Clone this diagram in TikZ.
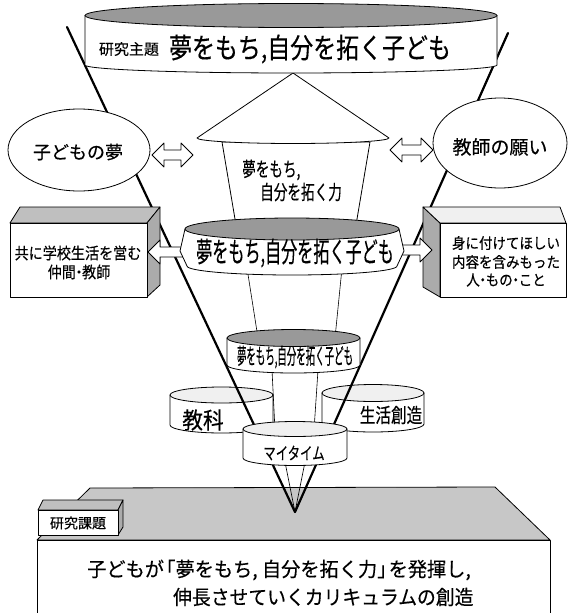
\documentclass[tikz,border=0pt]{standalone}
\usepackage{fontspec}
\setmainfont{Noto Sans CJK JP}[FakeBold=0.35]
\usepackage{graphicx}
\newcommand{\jt}[3]{{\fontsize{#1}{#1}\selectfont\scalebox{#2}[1]{#3}}}
\newcommand{\nd}{\kern-0.28em・\kern-0.28em}
% cylinder: cx, ytop, ybot, rx, ry top, ry bottom, top fill
\newcommand{\cyl}[7]{%
  \filldraw[ol, fill=white] ({#1-#4},#2) -- ({#1-#4},#3)
    .. controls ({#1-#4},{#3+0.5523*#6}) and ({#1-0.5523*#4},{#3+#6}) .. (#1,{#3+#6})
    .. controls ({#1+0.5523*#4},{#3+#6}) and ({#1+#4},{#3+0.5523*#6}) .. ({#1+#4},#3)
    -- ({#1+#4},#2) -- cycle;
  \filldraw[ol, fill=#7] (#1,#2) ellipse [x radius=#4, y radius=#5];
}
\newcommand{\dblarrow}[3]{%
  \filldraw[ol, fill=white] (#1,#3) -- ({#1+12},{#3-12}) -- ({#1+12},{#3-5}) -- ({#2-12},{#3-5})
    -- ({#2-12},{#3-12}) -- (#2,#3) -- ({#2-12},{#3+12}) -- ({#2-12},{#3+5})
    -- ({#1+12},{#3+5}) -- ({#1+12},{#3+12}) -- cycle;
}
\begin{document}
\begin{tikzpicture}[x=1pt,y=-1pt,line join=round,
  ol/.style={draw=black,line width=0.8pt},
  txt/.style={inner sep=0pt,text=black},
  thickv/.style={line width=2.2pt,line cap=round},
  thinl/.style={line width=0.6pt}]
\useasboundingbox (0,0) rectangle (569,613);

% bottom slab
\filldraw[ol, fill=black!22] (37,540) -- (90,488) -- (495,487) -- (550,540) -- cycle;
\fill[white] (37,540) rectangle (550,613);
\draw[ol] (37,613) -- (37,540) -- (550,540) -- (550,613);
% small box
\filldraw[ol, fill=black!25] (38,510) -- (43,500) -- (123,500) -- (118,510) -- cycle;
\filldraw[ol, fill=black!33] (118,510) -- (123,500) -- (123,527) -- (118,535) -- cycle;
\filldraw[ol, fill=white] (38,510) rectangle (118,535);
\node[txt] (kadai) at (78,523) {\jt{14}{1}{研究課題}};
\node[txt,anchor=west] (goal1) at (87,570) {\jt{20}{0.96}{子どもが\kern-0.4em「夢をもち, 自分を拓く力」\kern-0.4em を発揮し,}};
\node[txt,anchor=west] (goal2) at (173,597) {\jt{20}{0.94}{伸長させていくカリキュラムの創造}};

% back cylinders
\cyl{221.5}{395}{425}{51.5}{8}{8}{black!6}
\node[txt] (kyouka) at (203,420) {\jt{23}{0.9}{教科}};
\cyl{373}{393}{424}{51}{8.5}{8}{black!6}
\node[txt] (seikatsu) at (391,415) {\jt{20}{0.78}{生活創造}};

% big V
\coordinate (apex) at (295,512);
\coordinate (vl) at (67,27);
\coordinate (vr) at (508,33);
\draw[thickv] (vl) -- (apex);
\draw[thickv] (vr) -- (apex);

% thin inner lines
\draw[thinl] (285,462) -- (apex) -- (305,462);
\draw[thinl] (272,370) -- (275,430);
\draw[thinl] (318,370) -- (314,430);
\draw[thinl] (247,268) -- (258,338);
\draw[thinl] (342,268) -- (335,338);

% my time
\cyl{295}{429}{458}{52}{7.5}{7.5}{black!6}
\node[txt] (mytime) at (294,453) {\jt{17}{0.73}{マイタイム}};

% small band
\cyl{293.5}{338}{365}{66.5}{8.5}{8}{black!40}
\node[txt] (band3) at (295,357) {\jt{22}{0.43}{夢をもち,自分を拓く子ども}};

% house
\filldraw[ol, fill=white] (222,142) -- (236,225) -- (356,225) -- (370,142) -- cycle;
\filldraw[ol, fill=white] (197,138) -- (293,73) -- (389,138)
  .. controls (389,141) and (346,143.5) .. (293,143.5)
  .. controls (240,143.5) and (197,141) .. cycle;
\node[txt,anchor=west] (power1) at (242,170) {\jt{20}{0.68}{夢をもち,}};
\node[txt,anchor=west] (power2) at (260,192) {\jt{20}{0.68}{自分を拓く力}};

% top cylinder
\cyl{291}{15.5}{65}{206}{12}{8}{black!40}
\node[txt] (shudai) at (129,49) {\jt{15}{1}{研究主題}};
\node[txt] (title) at (310,49) {\jt{28}{0.82}{夢をもち,自分を拓く子ども}};

% ellipses
\filldraw[ol, fill=white] (79,150) ellipse [x radius=71, y radius=41];
\node[txt] (yume) at (78,152) {\jt{18}{1}{子どもの夢}};
\filldraw[ol, fill=white] (500,143) ellipse [x radius=67, y radius=45];
\node[txt] (negai) at (500,147) {\jt{19}{1}{教師の願い}};
\dblarrow{152}{193}{155}
\dblarrow{390}{433}{150}

% left box
\filldraw[ol, fill=black!25] (10,223) -- (20,207) -- (160,207) -- (147,223) -- cycle;
\filldraw[ol, fill=black!33] (147,223) -- (160,207) -- (160,285) -- (147,297) -- cycle;
\filldraw[ol, fill=white] (10,223) rectangle (147,297);
\node[txt] (nakama1) at (78,253) {\jt{16}{0.88}{共に学校生活を営む}};
\node[txt] (nakama2) at (79,272) {\jt{16}{0.88}{仲間\nd 教師}};
% right box
\filldraw[ol, fill=black!33] (440,223) -- (423,207) -- (423,287) -- (440,297) -- cycle;
\filldraw[ol, fill=black!6] (440,223) -- (423,207) -- (560,207) -- (566,223) -- cycle;
\filldraw[ol, fill=white] (440,223) rectangle (566,297);
\node[txt] (naiyou1) at (506,243) {\jt{15}{0.9}{身に付けてほしい}};
\node[txt] (naiyou2) at (506,262) {\jt{15}{0.9}{内容を含みもった}};
\node[txt] (naiyou3) at (506,280) {\jt{15}{0.9}{人\nd もの\nd こと}};

% arrows to boxes
\filldraw[ol, fill=white] (148,252) -- (160,240) -- (160,247) -- (190,247) -- (190,257) -- (160,257) -- (160,264) -- cycle;
\filldraw[ol, fill=white] (432,250) -- (420,238) -- (420,245) -- (395,245) -- (395,255) -- (420,255) -- (420,262) -- cycle;

% middle band
\filldraw[ol, fill=white] (185,229) -- (180,251) -- (187,266)
  .. controls (187,271) and (234,275) .. (292,275)
  .. controls (350,275) and (397,271) .. (397,266)
  -- (404,251) -- (399,229) -- cycle;
\filldraw[ol, fill=black!40] (292,229) ellipse [x radius=107, y radius=11];
\node[txt] (band2) at (295,253) {\jt{28}{0.575}{夢をもち,自分を拓く子ども}};
\end{tikzpicture}
\end{document}
